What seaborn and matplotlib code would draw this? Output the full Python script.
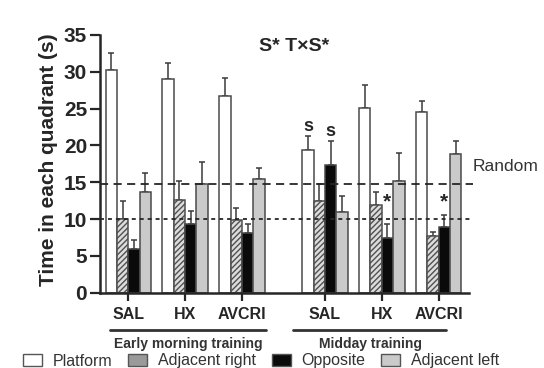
import numpy as np
import pandas as pd
import seaborn as sns
import matplotlib
matplotlib.use("Agg")
import matplotlib.pyplot as plt
import matplotlib.transforms as mtransforms
from matplotlib.patches import Patch

# ---- data -------------------------------------------------------------
drugs = ["SAL", "HX", "AVCRI"]
sessions = ["Early morning training", "Midday training"]
quadrants = ["Platform", "Adjacent right", "Opposite", "Adjacent left"]

# group positions on the x axis (gap between the two training sessions)
early_pos = [0.0, 1.0, 2.0]
midday_pos = [3.46, 4.46, 5.46]

# mean time (s) per quadrant, order SAL, HX, AVCRI
platform_early = [30.3, 29.0, 26.7]
adj_right_early = [10.0, 12.6, 9.9]
opposite_early = [5.9, 9.3, 8.1]
adj_left_early = [13.7, 14.7, 15.4]

platform_midday = [19.4, 25.1, 24.5]
adj_right_midday = [12.5, 11.9, 7.7]
opposite_midday = [17.3, 7.4, 8.9]
adj_left_midday = [10.9, 15.2, 18.8]

# SEM (upper error bars)
platform_early_sem = [2.2, 2.2, 2.5]
adj_right_early_sem = [2.4, 2.6, 1.6]
opposite_early_sem = [1.2, 1.8, 1.2]
adj_left_early_sem = [2.5, 3.1, 1.6]

platform_midday_sem = [1.9, 3.1, 1.5]
adj_right_midday_sem = [2.3, 1.8, 0.6]
opposite_midday_sem = [3.3, 1.9, 1.7]
adj_left_midday_sem = [2.2, 3.8, 1.8]

random_upper = 14.7
random_lower = 10.0

# ---- tidy table -------------------------------------------------------
means = {
    "Platform": platform_early + platform_midday,
    "Adjacent right": adj_right_early + adj_right_midday,
    "Opposite": opposite_early + opposite_midday,
    "Adjacent left": adj_left_early + adj_left_midday,
}
sems = {
    "Platform": platform_early_sem + platform_midday_sem,
    "Adjacent right": adj_right_early_sem + adj_right_midday_sem,
    "Opposite": opposite_early_sem + opposite_midday_sem,
    "Adjacent left": adj_left_early_sem + adj_left_midday_sem,
}
positions = early_pos + midday_pos
rows = []
for q in quadrants:
    for p, m, s in zip(positions, means[q], sems[q]):
        rows.append({"pos": p, "quadrant": q, "time": m, "sem": s})
df = pd.DataFrame(rows)

# ---- style ------------------------------------------------------------
sns.set_style("ticks")
plt.rcParams["font.family"] = ["Liberation Sans", "DejaVu Sans"]
plt.rcParams["hatch.linewidth"] = 1.0

ink = "#262626"
edge = "#4a4a4a"
fills = {"Platform": "#ffffff", "Adjacent right": "#dcdcdc",
         "Opposite": "#0a0a0a", "Adjacent left": "#cacaca"}

fig = plt.figure(figsize=(5.44, 3.68), dpi=100)
ax = fig.add_axes([0.183, 0.2046, 0.8627 - 0.183, 0.9049 - 0.2046])

sns.barplot(data=df, x="pos", y="time", hue="quadrant", hue_order=quadrants,
            palette=fills, native_scale=True, errorbar=None, width=0.8,
            edgecolor=edge, linewidth=1.1, legend=False, ax=ax, zorder=2)

# hatching for the adjacent-right bars, SEM error bars on every bar
for q, cont in zip(quadrants, ax.containers):
    bars = sorted(cont.patches, key=lambda b: b.get_x())
    sub = df[df["quadrant"] == q].sort_values("pos")
    xs = [b.get_x() + b.get_width() / 2 for b in bars]
    hs = [b.get_height() for b in bars]
    if q == "Adjacent right":
        for b in bars:
            b.set_hatch("//////")
            b.set_edgecolor("#505050")
    ax.errorbar(xs, hs, yerr=[np.zeros(len(xs)), sub["sem"].values],
                fmt="none", ecolor="#3a3a3a", elinewidth=1.1,
                capsize=2.2, capthick=1.1, zorder=1)

# chance-level reference lines
x0, x1 = -0.505, 6.0
ax.set_xlim(x0, x1)
ax.set_ylim(0, 35)
ax.plot([x0, 6.06], [random_upper] * 2, ls=(0, (4.5, 3)), color=ink,
        lw=1.3, clip_on=False, zorder=3)
ax.plot([x0, 6.06], [random_lower] * 2, ls=(0, (2.2, 2.2)), color=ink,
        lw=1.3, clip_on=False, zorder=3)
ax.text(6.05, 17.1, "Random", fontsize=12.5, color="#333333",
        ha="left", va="center", clip_on=False)

# significance marks
ax.text(3.16, 22.6, "s", fontsize=13, fontweight="bold", ha="center",
        va="center", color=ink)
ax.text(3.56, 21.9, "s", fontsize=13, fontweight="bold", ha="center",
        va="center", color=ink)
ax.text(4.56, 12.3, "*", fontsize=15, fontweight="bold", ha="center",
        va="center", color=ink)
ax.text(5.56, 12.3, "*", fontsize=15, fontweight="bold", ha="center",
        va="center", color=ink)

# axes cosmetics
sns.despine(ax=ax)
for sp in ("left", "bottom"):
    ax.spines[sp].set_linewidth(1.8)
    ax.spines[sp].set_color(ink)
ax.set_yticks(np.arange(0, 36, 5))
ax.set_yticklabels([str(v) for v in range(0, 36, 5)], fontsize=15,
                   fontweight="bold", color=ink)
ax.set_xticks(positions)
ax.set_xticklabels(drugs + drugs, fontsize=11.5, fontweight="bold", color=ink)
ax.tick_params(axis="y", length=7, width=1.6, color=ink, pad=2)
ax.tick_params(axis="x", length=6, width=1.6, color=ink, pad=4)
ax.set_xlabel("")
ax.set_ylabel("Time in each quadrant (s)", fontsize=15, fontweight="bold",
              color=ink)
ax.yaxis.set_label_coords(-0.112, 0.515)

# session brackets under the drug labels
trans = mtransforms.blended_transform_factory(ax.transData, ax.transAxes)
for (xa, xb), name, xc in zip([(-0.32, 2.43), (2.89, 5.59)], sessions,
                               [1.05, 4.26]):
    ax.plot([xa, xb], [-0.145, -0.145], color="#333333", lw=2.0,
            transform=trans, clip_on=False)
    ax.text(xc, -0.2, name, transform=trans, fontsize=10,
            fontweight="bold", ha="center", va="center", color="#333333")

# title
fig.text(294 / 544, 1 - 46.5 / 368, "S* T×S*", fontsize=14,
         fontweight="bold", ha="center", va="center", color=ink)

# legend
handles = [Patch(facecolor=("#9a9a9a" if q == "Adjacent right" else fills[q]),
                 edgecolor="#555555", linewidth=1.0) for q in quadrants]
fig.legend(handles, quadrants, loc="center",
           bbox_to_anchor=(261 / 544, 1 - 361 / 368), ncol=4, frameon=False,
           fontsize=11.5, handlelength=1.2, handleheight=0.7,
           handletextpad=0.65, columnspacing=1.0, labelcolor="#333333",
           borderpad=0.0, borderaxespad=0.0)

fig.savefig("out.png", dpi=100)
